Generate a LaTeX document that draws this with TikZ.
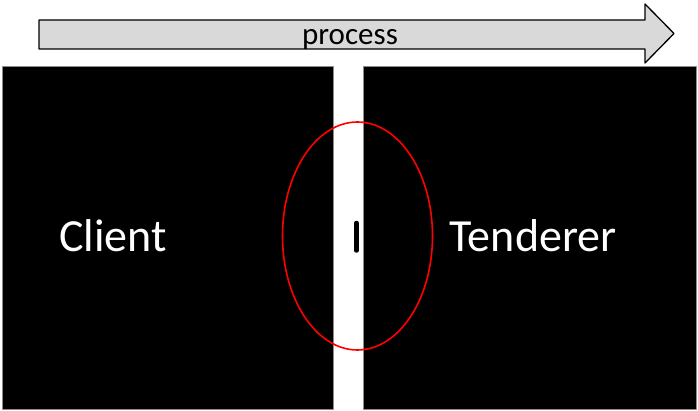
\documentclass[tikz,border=0pt]{standalone}
\usepackage{fontspec}
\setmainfont{Carlito}
\usetikzlibrary{positioning, shapes.geometric}

\begin{document}
\begin{tikzpicture}[x=1pt, y=-1pt, line join=round]

    % Stile
    \tikzset{
        party/.style={fill=black, draw=black!45, line width=0.6pt, inner sep=0pt},
        partylabel/.style={text=white, font=\fontsize{46}{46}\selectfont, anchor=base},
    }

    \useasboundingbox (0,0) rectangle (698,411);

    % Prozesspfeil
    \draw [fill=black!15, line width=1.3pt]
        (39,20) -- (645,20) -- (645,4) -- (674,33.5) -- (645,63) -- (645,49) -- (39,49) -- cycle;
    \node [anchor=base, font=\fontsize{31}{31}\selectfont] (process) at (350,44.5) {process};

    % Auftraggeber und Bieter
    \node [party, minimum width=331pt, minimum height=343pt] (client) at (167.5,237.5) {};
    \node [party, minimum width=333pt, minimum height=343pt] (tenderer) at (529.5,237.5) {};

    \node [partylabel] (clientlabel) at (113,251.5) {Client};
    \node [partylabel] (tendererlabel) at (533,251.5) {Tenderer};

    % Schnittstelle
    \draw [black, line width=4.5pt, line cap=round] (356.5,223) -- (356.5,250.5);
    \node [draw=red, line width=1.6pt, ellipse, minimum width=150pt, minimum height=228pt, inner sep=0pt] (interface) at (357.5,236) {};

\end{tikzpicture}
\end{document}
